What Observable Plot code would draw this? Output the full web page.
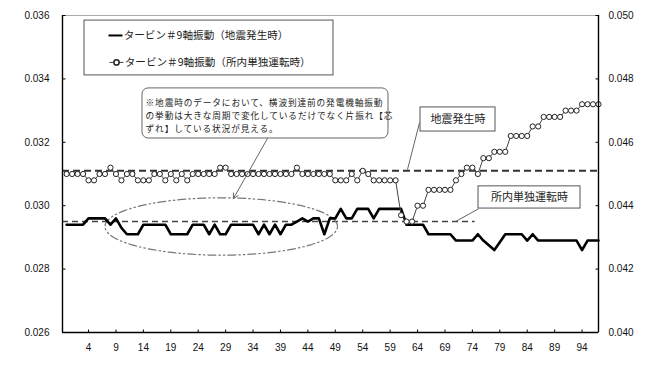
<!DOCTYPE html>
<html>
<head>
<meta charset="utf-8">
<script src="https://cdn.jsdelivr.net/npm/d3@7"></script>
<script src="https://cdn.jsdelivr.net/npm/@observablehq/plot@0.6"></script>
<style>
  body { margin: 0; background: #fff; }
  #chart svg { display: block; }
</style>
</head>
<body>
<div id="chart"></div>
<script>
// ---- data ----
// Series 1: タービン＃9軸振動（地震発生時） – left axis
const quakeValues = [
  0.0294, 0.0294, 0.0294, 0.0294, 0.0296, 0.0296, 0.0296, 0.0296, 0.0294, 0.0296,
  0.0293, 0.0291, 0.0291, 0.0291, 0.0294, 0.0294, 0.0294, 0.0294, 0.0294, 0.0291,
  0.0291, 0.0291, 0.0291, 0.0294, 0.0294, 0.0294, 0.0291, 0.0294, 0.0291, 0.0291,
  0.0294, 0.0294, 0.0294, 0.0294, 0.0294, 0.0291, 0.0294, 0.0291, 0.0294, 0.0291,
  0.0294, 0.0294, 0.0295, 0.0296, 0.0295, 0.0296, 0.0296, 0.0291, 0.0296, 0.0296,
  0.0299, 0.0296, 0.0296, 0.0299, 0.0299, 0.0299, 0.0296, 0.0299, 0.0299, 0.0299,
  0.0299, 0.0299, 0.0294, 0.0294, 0.0294, 0.0294, 0.0291, 0.0291, 0.0291, 0.0291,
  0.0291, 0.0289, 0.0289, 0.0289, 0.0289, 0.0291, 0.0289, 0.02875, 0.0286, 0.02885,
  0.0291, 0.0291, 0.0291, 0.0291, 0.0289, 0.0291, 0.0289, 0.0289, 0.0289, 0.0289,
  0.0289, 0.0289, 0.0289, 0.0289, 0.0286, 0.0289, 0.0289, 0.0289
];
// Series 2: タービン＃9軸振動（所内単独運転時） – right axis
const islandValues = [
  0.0450, 0.0450, 0.0450, 0.0450, 0.0448, 0.0448, 0.0450, 0.0450, 0.0452, 0.0450,
  0.0448, 0.0450, 0.0450, 0.0448, 0.0448, 0.0448, 0.0450, 0.0450, 0.0448, 0.0450,
  0.0448, 0.0450, 0.0448, 0.0450, 0.0450, 0.0450, 0.0450, 0.0450, 0.0452, 0.0452,
  0.0450, 0.0450, 0.0450, 0.0450, 0.0450, 0.0450, 0.0450, 0.0450, 0.0450, 0.0450,
  0.0450, 0.0450, 0.0452, 0.0450, 0.0450, 0.0450, 0.0450, 0.0450, 0.0450, 0.0448,
  0.0448, 0.0448, 0.0450, 0.0448, 0.0451, 0.0450, 0.0448, 0.0448, 0.0448, 0.0448,
  0.0448, 0.0437, 0.0435, 0.0435, 0.0440, 0.0440, 0.0445, 0.0445, 0.0445, 0.0445,
  0.0445, 0.0448, 0.0450, 0.0452, 0.0452, 0.0450, 0.0455, 0.0455, 0.0457, 0.0457,
  0.0457, 0.0462, 0.0462, 0.0462, 0.0462, 0.0465, 0.0465, 0.0468, 0.0468, 0.0468,
  0.0468, 0.0470, 0.0470, 0.0470, 0.0472, 0.0472, 0.0472, 0.0472
];
const seriesNames = ["タービン＃9軸振動（地震発生時）", "タービン＃9軸振動（所内単独運転時）"];
const xTickLabels = [4, 9, 14, 19, 24, 29, 34, 39, 44, 49, 54, 59, 64, 69, 74, 79, 84, 89, 94];
const leftTicks = [0.026, 0.028, 0.030, 0.032, 0.034, 0.036];
const rightTicks = [0.040, 0.042, 0.044, 0.046, 0.048, 0.050];
const axisOffset = 0.014; // right axis = left axis + offset
// reference (average) levels drawn as dashed lines, left-axis units
const refQuake = 0.0311;
const refIsland = 0.0295;
const refIslandEnd = 74.5;
const annotationLines = [
  "※地震時のデータにおいて、横波到達前の発電機軸振動",
  "の挙動は大きな周期で変化しているだけでなく片振れ【芯",
  "ずれ】している状況が見える。"
];
const labelQuake = "地震発生時";
const labelIsland = "所内単独運転時";

// ---- build table ----
const idx = d3.range(quakeValues.length);
const rows = idx.map(i => ({i, quake: quakeValues[i], island: islandValues[i], islandL: islandValues[i] - axisOffset}));

const xDom = [-0.75, 97];
const yDom = [0.026, 0.036];
const pxX = (xDom[1] - xDom[0]) / 536;   // data units per pixel (x)
const pxY = (yDom[1] - yDom[0]) / 317;   // data units per pixel (y)

// annotation geometry (data units)
const boxes = [
  {x1: 3.26, x2: 48.67, y1: 0.03584, y2: 0.03411, rx: 0, stroke: "#555"},
  {x1: 13.84, x2: 58.7, y1: 0.03370, y2: 0.03212, rx: 6, stroke: "#666"},
  {x1: 64.54, x2: 78.22, y1: 0.03310, y2: 0.03234, rx: 0, stroke: "#555"},
  {x1: 75.12, x2: 93.72, y1: 0.03061, y2: 0.02991, rx: 0, stroke: "#555"}
];
const leaders = [
  {x1: 64.36, y1: 0.03262, x2: 62.17, y2: 0.03114},
  {x1: 75.12, y1: 0.02990, x2: 70.92, y2: 0.02950}
];
const annoRows = annotationLines.map((t, k) => ({t, x: 14.4, y: 0.03322 - k * 12.7 * pxY}));
const ell = {cx: 28.2, cy: 0.029344, rx: 21.2, ry: 0.000905};
const ellipsePts = d3.range(0, 361, 3).map(a => ({
  x: ell.cx + ell.rx * Math.cos(a * Math.PI / 180),
  y: ell.cy + ell.ry * Math.sin(a * Math.PI / 180)
}));

const jp = "'Noto Sans CJK JP', 'Noto Sans', sans-serif";

const chart = Plot.plot({
  width: 654,
  height: 365,
  marginLeft: 62,
  marginRight: 56,
  marginTop: 15,
  marginBottom: 33,
  style: {fontFamily: "'Liberation Sans', Arial, sans-serif", fontSize: "10px", background: "#fff", color: "#111"},
  x: {domain: xDom, axis: null},
  y: {domain: yDom, axis: null},
  marks: [
    // frame
    Plot.ruleY([yDom[1]], {stroke: "#aaa", strokeWidth: 1}),
    // reference dashed lines
    Plot.ruleY([refQuake], {stroke: "#333", strokeWidth: 2, strokeDasharray: "7,4"}),
    Plot.ruleY([refIsland], {x1: xDom[0], x2: refIslandEnd, stroke: "#444", strokeWidth: 1.6, strokeDasharray: "6,4"}),
    // ellipse annotation
    Plot.line(ellipsePts, {x: "x", y: "y", stroke: "#777", strokeWidth: 1.2, strokeDasharray: "8,3,1.5,3,1.5,3"}),
    // series 1 (solid)
    Plot.line(rows, {x: "i", y: "quake", stroke: "#000", strokeWidth: 2.6}),
    // series 2 (circles)
    Plot.line(rows, {x: "i", y: "islandL", stroke: "#444", strokeWidth: 1}),
    Plot.dot(rows, {x: "i", y: "islandL", r: 2.6, fill: "#fff", stroke: "#222", strokeWidth: 1}),
    // axis lines
    Plot.ruleX([xDom[0]], {stroke: "#000", strokeWidth: 1.4}),
    Plot.ruleX([xDom[1]], {stroke: "#000", strokeWidth: 1.4}),
    Plot.ruleY([yDom[0]], {stroke: "#000", strokeWidth: 1.6}),
    // inward ticks
    Plot.link(leftTicks, {x1: xDom[0], x2: xDom[0] + 3 * pxX, y1: d => d, y2: d => d, stroke: "#000"}),
    Plot.link(leftTicks, {x1: xDom[1], x2: xDom[1] - 3 * pxX, y1: d => d, y2: d => d, stroke: "#000"}),
    Plot.link(xTickLabels, {x1: d => d, x2: d => d, y1: yDom[0], y2: yDom[0] + 3 * pxY, stroke: "#000"}),
    // axes text
    Plot.axisY({anchor: "left", ticks: leftTicks, tickSize: 0, tickPadding: 13, tickFormat: d => d.toFixed(3), fontSize: 10}),
    Plot.axisY({anchor: "right", ticks: leftTicks, tickSize: 0, tickPadding: 10, tickFormat: d => (d + axisOffset).toFixed(3), fontSize: 10}),
    Plot.axisX({anchor: "bottom", ticks: xTickLabels, tickSize: 0, tickPadding: 11, tickFormat: d => String(d), fontSize: 10}),
    // boxes
    Plot.rect(boxes, {x1: "x1", x2: "x2", y1: "y1", y2: "y2", fill: "#fff", stroke: "stroke", strokeWidth: 1, rx: 6, filter: d => d.rx > 0}),
    Plot.rect(boxes, {x1: "x1", x2: "x2", y1: "y1", y2: "y2", fill: "#fff", stroke: "stroke", strokeWidth: 1, filter: d => d.rx === 0}),
    // leader lines & arrow
    Plot.link(leaders, {x1: "x1", y1: "y1", x2: "x2", y2: "y2", stroke: "#666", strokeWidth: 1}),
    Plot.arrow([{x1: 36.63, y1: 0.03212, x2: 30.43, y2: 0.03023}], {x1: "x1", y1: "y1", x2: "x2", y2: "y2", stroke: "#666", strokeWidth: 1, headLength: 8}),
    // legend symbols
    Plot.link([0], {x1: 7.64, x2: 10.19, y1: 0.03537, y2: 0.03537, stroke: "#000", strokeWidth: 2}),
    Plot.link([0], {x1: 7.82, x2: 10.37, y1: 0.03452, y2: 0.03452, stroke: "#444", strokeWidth: 1}),
    Plot.dot([0], {x: 9.1, y: 0.03452, r: 2.6, fill: "#fff", stroke: "#222"}),
    Plot.text([seriesNames[0]], {x: 10.4, y: 0.03537, text: d => d, textAnchor: "start", fontSize: 10.6, fontFamily: jp, fill: "#222"}),
    Plot.text([seriesNames[1]], {x: 10.6, y: 0.03452, text: d => d, textAnchor: "start", fontSize: 10.6, fontFamily: jp, fill: "#222"}),
    // annotation texts (one text per line)
    Plot.text(annoRows, {x: "x", y: "y", text: "t", textAnchor: "start", fontSize: 8.7, fontFamily: jp, fill: "#222", ariaDescription: "anno"}),
    Plot.text([labelQuake], {x: 71.38, y: 0.03272, text: d => d, textAnchor: "middle", fontSize: 11, fontFamily: jp, fill: "#222"}),
    Plot.text([labelIsland], {x: 84.42, y: 0.03026, text: d => d, textAnchor: "middle", fontSize: 11, fontFamily: jp, fill: "#222"})
  ]
});
d3.select(chart).selectAll("g[aria-description='anno'] text").style("letter-spacing", "0.85px");
document.getElementById("chart").append(chart);
</script>
</body>
</html>
